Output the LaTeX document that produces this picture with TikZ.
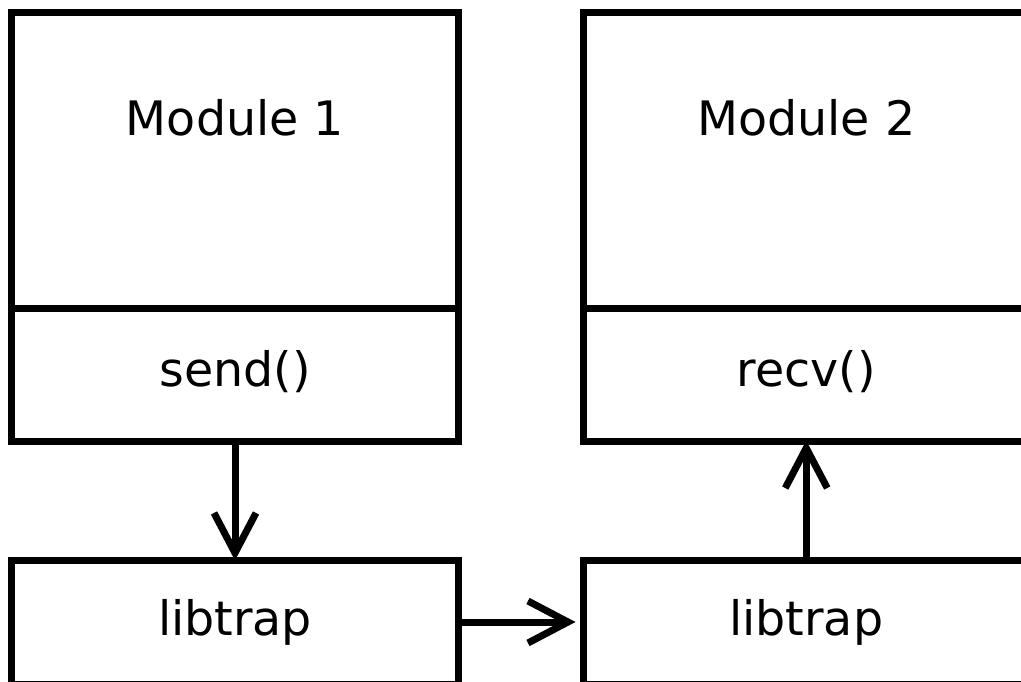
\documentclass[tikz,border=0pt]{standalone}
\usepackage{fontspec}
\setmainfont{DejaVu Sans}
\usetikzlibrary{arrows.meta}
\begin{document}
\begin{tikzpicture}[x=1pt,y=-1pt,
  box/.style={draw,line width=7pt,rectangle,inner sep=0pt,minimum width=446.5pt},
  lbl/.style={font=\fontsize{47.5}{57}\selectfont,inner sep=0pt},
  conn/.style={line width=7pt,-{Straight Barb[length=40pt,width=42pt,line width=7pt]}}]
\useasboundingbox (0,0) rectangle (1021,682);
% left column
\node[box,minimum height=295.5pt] (m1) at (235,160.25) {};
\node[box,minimum height=133pt] (s1) at (235,374.5) {};
\node[box,minimum height=124pt] (l1) at (235,622) {};
% right column
\node[box,minimum height=295.5pt] (m2) at (806.25,160.25) {};
\node[box,minimum height=133pt] (s2) at (806.25,374.5) {};
\node[box,minimum height=124pt] (l2) at (806.25,622) {};
% labels
\node[lbl] (t1) at (235,118) {Module 1};
\node[lbl] (t2) at (806.25,118) {Module 2};
\node[lbl] (t3) at (235,372) {send()};
\node[lbl] (t4) at (806.25,372) {recv()};
\node[lbl] (t5) at (235,622) {libtrap};
\node[lbl] (t6) at (806.25,622) {libtrap};
% connectors
\draw[conn] (s1.south) -- ([yshift=-4pt]l1.north);
\draw[conn] (l1.east) -- ([xshift=-4pt]l2.west);
\draw[conn] (l2.north) -- ([yshift=4pt]s2.south);
\end{tikzpicture}
\end{document}
